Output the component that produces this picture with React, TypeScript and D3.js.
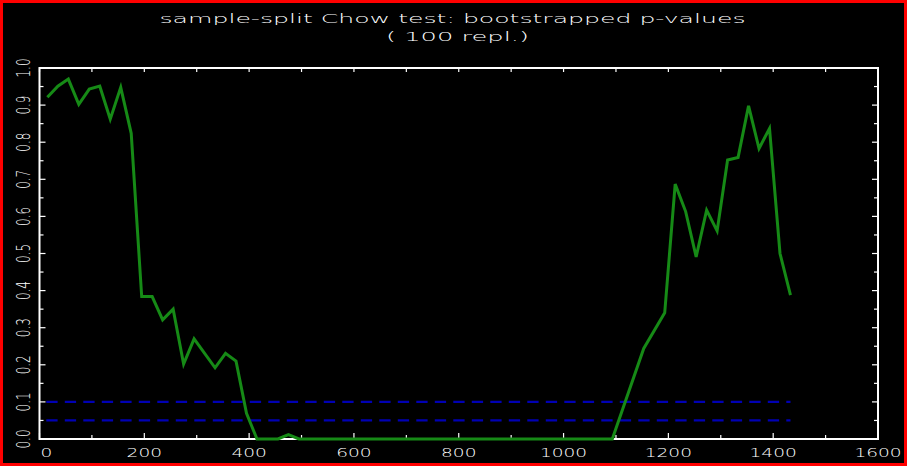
import React from 'react';
import * as d3 from 'd3';

// bootstrap p-values of the sample-split Chow test
const breakPoints = [15, 35, 55, 75, 95, 115, 135, 155, 175, 195, 215, 235, 255, 275, 295, 335, 355, 375, 395, 415, 455, 475, 495,
  1093, 1153, 1193, 1213, 1233, 1253, 1273, 1293, 1313, 1333, 1353, 1373, 1393, 1413, 1433];
const pValues = [0.921, 0.951, 0.97, 0.902, 0.943, 0.951, 0.862, 0.948, 0.824, 0.384, 0.384, 0.321, 0.35, 0.202, 0.27, 0.192, 0.231, 0.21, 0.069, 0, 0, 0.012, 0,
  0, 0.244, 0.34, 0.687, 0.613, 0.491, 0.617, 0.561, 0.752, 0.759, 0.898, 0.783, 0.837, 0.5, 0.388];
const levels = [0.1, 0.05];

const xTicks = [0, 200, 400, 600, 800, 1000, 1200, 1400, 1600];
const xMinor = d3.range(100, 1600, 200);
const yTicks = [0, 0.1, 0.2, 0.3, 0.4, 0.5, 0.6, 0.7, 0.8, 0.9, 1.0];
const yMinor = d3.range(0.05, 1, 0.1);

const titleLines = ['sample-split Chow test: bootstrapped p-values', '( 100 repl.)'];

const W = 907, H = 466;
const frame = { left: 39.5, right: 878, top: 68, bottom: 439 };
const font = '"DejaVu Sans", sans-serif';

const App = () => {
  const x = d3.scaleLinear().domain([0, 1600]).range([frame.left, frame.right]);
  const y = d3.scaleLinear().domain([0, 1]).range([frame.bottom, frame.top]);

  const pts = breakPoints.map((b, i) => [b, pValues[i]] as [number, number]);
  const line = d3.line<[number, number]>().x(d => x(d[0])).y(d => y(d[1]));
  const lastX = breakPoints[breakPoints.length - 1];

  return <svg width={W} height={H} style={{ position: 'absolute', left: 0, top: 0, background: '#000' }}>
    <rect x={0} y={0} width={W} height={H} fill='#000' />
    <rect x={1.5} y={1.5} width={W - 3} height={H - 3} fill='none' stroke='#ff0000' strokeWidth={3} />

    {/* title */}
    <text x={452.5} y={23} textAnchor='middle' fill='#fff' fontFamily={font} fontSize={13} fontWeight={200}
      textLength={586} lengthAdjust='spacingAndGlyphs'>{titleLines[0]}</text>
    <text x={457.5} y={41} textAnchor='middle' fill='#fff' fontFamily={font} fontSize={13} fontWeight={200}
      textLength={143} lengthAdjust='spacingAndGlyphs'>{titleLines[1]}</text>

    {/* frame */}
    <rect x={frame.left} y={frame.top} width={frame.right - frame.left} height={frame.bottom - frame.top}
      fill='none' stroke='#fff' strokeWidth={2} />

    {/* x ticks */}
    <g stroke='#fff' strokeWidth={1.2}>
      {xTicks.concat(xMinor).map(t => {
        const major = xTicks.includes(t);
        return <g key={'xt' + t}>
          <line x1={x(t)} x2={x(t)} y1={frame.bottom} y2={frame.bottom - (major ? 6 : 4)} />
          <line x1={x(t)} x2={x(t)} y1={frame.top} y2={frame.top + 4} />
        </g>
      })}
      {yTicks.concat(yMinor).map(t => {
        const major = yTicks.some(v => Math.abs(v - t) < 1e-6);
        const len = major ? 6 : 4;
        return <g key={'yt' + t}>
          <line x1={frame.left} x2={frame.left + len} y1={y(t)} y2={y(t)} />
          <line x1={frame.right} x2={frame.right - len} y1={y(t)} y2={y(t)} />
        </g>
      })}
    </g>

    {/* x labels */}
    {xTicks.map((t, i) => {
      const s = String(t);
      return <text key={'xl' + t} x={x(t) + (i === 0 ? 7 : 0)} y={457} textAnchor='middle' fill='#fff'
        fontFamily={font} fontSize={12.5} fontWeight={200}
        textLength={s.length * 11.8} lengthAdjust='spacingAndGlyphs'>{s}</text>
    })}

    {/* y labels, rotated */}
    {yTicks.map(t => (
      <text key={'yl' + t} transform={`translate(30, ${y(t)}) rotate(-90)`} textAnchor='middle' fill='#fff'
        fontFamily={font} fontSize={19} fontWeight={200}
        textLength={19} lengthAdjust='spacingAndGlyphs'>{t.toFixed(1)}</text>
    ))}

    {/* significance levels */}
    {levels.map(l => (
      <line key={'lv' + l} x1={x(0)} x2={x(lastX)} y1={y(l)} y2={y(l)}
        stroke='#0000b4' strokeWidth={2.2} strokeDasharray='11.3,7.2' strokeDashoffset={11.7} />
    ))}

    {/* p-values */}
    <path d={line(pts) || ''} fill='none' stroke='#168a16' strokeWidth={3} strokeLinejoin='miter' />
  </svg>
}

export default App;
